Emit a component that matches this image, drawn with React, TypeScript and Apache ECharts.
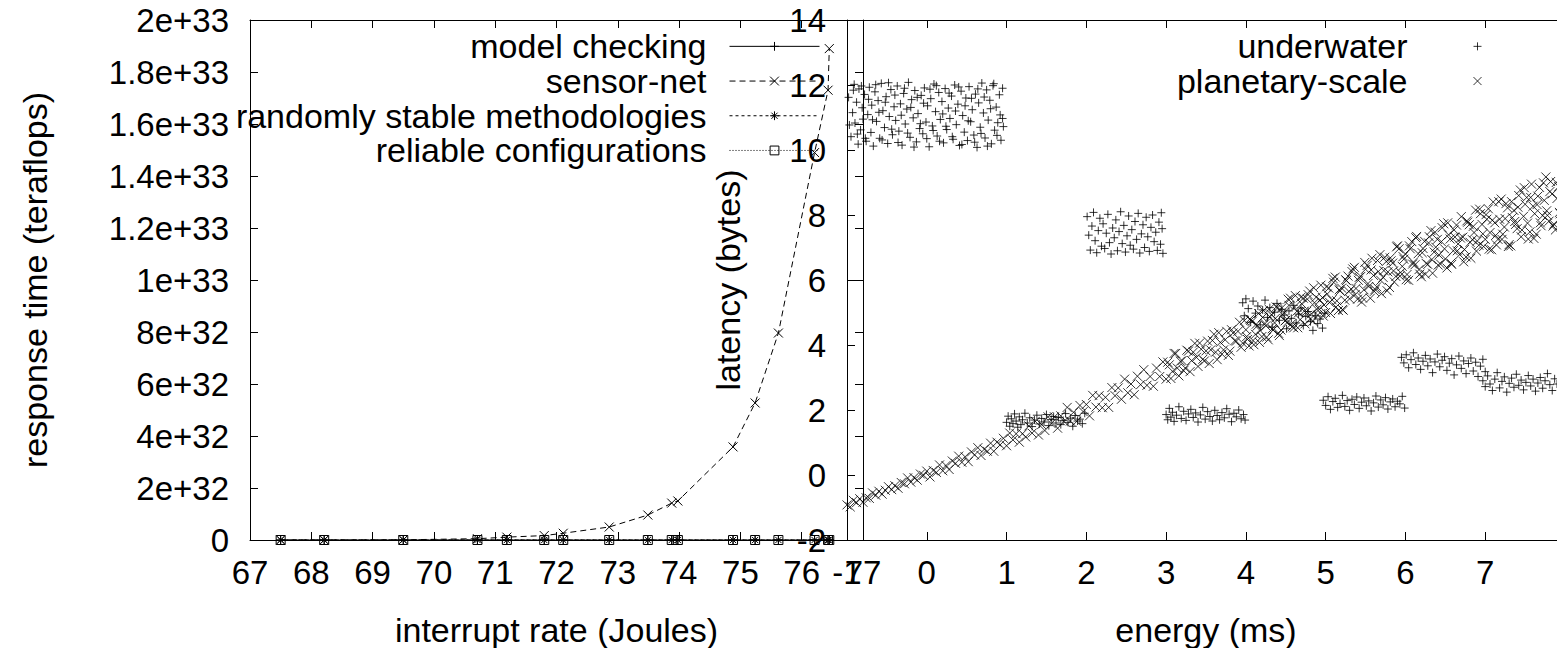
import React, { useEffect, useRef } from 'react';
import * as echarts from 'echarts';

const FONT = '"Liberation Sans", Arial, Helvetica, sans-serif';
const FS = 33;
const FS_NAME = 34;

// ---------- left panel ----------
const interruptRate = [67.5, 68.21, 69.5, 70.71, 71.19, 71.8, 72.11, 72.86, 73.49, 73.88, 73.98, 74.88, 75.24, 75.62, 76.21, 76.43, 76.45];
const modelChecking = [0, 0, 0, 0, 0, 0, 0, 0, 0, 0, 0, 0, 0, 0, 0, 0, 0];
const sensorNet = [2e28, 1e29, 8e29, 5e30, 1.1e31, 1.7e31, 2.6e31, 5e31, 9.6e31, 1.42e32, 1.5e32, 3.58e32, 5.27e32, 7.96e32, 1.49e33, 1.73e33, 1.89e33];
const randomlyStable = [0, 0, 0, 0, 0, 0, 0, 0, 0, 0, 0, 0, 0, 0, 0, 0, 0];
const reliableConfigurations = [0, 0, 0, 0, 0, 0, 0, 0, 0, 0, 0, 0, 0, 0, 0, 0, 0];
const leftYTickLabels = ['0', '2e+32', '4e+32', '6e+32', '8e+32', '1e+33', '1.2e+33', '1.4e+33', '1.6e+33', '1.8e+33', '2e+33'];

// ---------- right panel ----------
const underwaterA: [number, number][] = [
  [-0.98, 11.62], [-0.95, 10.41], [-0.93, 11.15], [-0.91, 12.02], [-0.9, 10.83], [-0.88, 11.47], [-0.86, 10.18], [-0.85, 11.88], [-0.83, 10.62], [-0.81, 11.3],
  [-0.8, 10.95], [-0.78, 11.71], [-0.76, 10.27], [-0.74, 11.09], [-0.72, 11.93], [-0.7, 10.54], [-0.69, 11.38], [-0.67, 10.12], [-0.65, 11.79], [-0.63, 10.88],
  [-0.61, 11.52], [-0.59, 10.36], [-0.57, 12.05], [-0.55, 11.21], [-0.53, 10.69], [-0.51, 11.64], [-0.49, 10.2], [-0.47, 11.03], [-0.45, 11.86], [-0.43, 10.47],
  [-0.41, 11.33], [-0.39, 10.91], [-0.37, 11.97], [-0.35, 10.58], [-0.33, 11.42], [-0.31, 10.15], [-0.29, 11.74], [-0.27, 10.8], [-0.25, 11.26], [-0.23, 12.08],
  [-0.21, 10.39], [-0.19, 11.55], [-0.17, 10.99], [-0.15, 11.83], [-0.13, 10.25], [-0.11, 11.12], [-0.09, 10.66], [-0.07, 11.68], [-0.05, 10.5], [-0.03, 11.91],
  [-0.01, 10.86], [0.01, 11.36], [0.03, 10.1], [0.05, 11.58], [0.07, 10.74], [0.09, 12.03], [0.11, 11.18], [0.13, 10.43], [0.15, 11.77], [0.17, 10.94],
  [0.19, 11.49], [0.21, 10.22], [0.23, 11.89], [0.25, 10.63], [0.27, 11.29], [0.29, 10.97], [0.31, 11.66], [0.33, 10.33], [0.35, 12.0], [0.37, 10.78],
  [0.39, 11.41], [0.41, 10.14], [0.43, 11.81], [0.45, 11.06], [0.47, 10.55], [0.49, 11.6], [0.51, 10.29], [0.53, 11.95], [0.55, 10.87], [0.57, 11.24],
  [0.59, 10.46], [0.61, 11.72], [0.63, 10.08], [0.65, 11.45], [0.67, 10.7], [0.69, 12.06], [0.71, 11.14], [0.73, 10.37], [0.75, 11.85], [0.77, 10.92],
  [0.79, 11.53], [0.81, 10.19], [0.83, 11.98], [0.85, 10.61], [0.87, 11.32], [0.89, 10.84], [0.91, 11.7], [0.93, 10.3], [0.95, 11.9], [0.96, 10.72],
  [-0.97, 10.77], [-0.92, 11.84], [-0.87, 10.49], [-0.82, 11.97], [-0.77, 10.36], [-0.73, 11.56], [-0.68, 10.93], [-0.64, 12.01], [-0.6, 11.16], [-0.56, 10.31],
  [-0.52, 11.47], [-0.48, 12.07], [-0.44, 10.64], [-0.4, 11.69], [-0.36, 10.23], [-0.32, 11.07], [-0.28, 11.9], [-0.24, 10.52], [-0.2, 11.31], [-0.16, 10.09],
  [-0.12, 11.62], [-0.08, 10.81], [-0.04, 11.44], [0.0, 10.35], [0.04, 11.87], [0.08, 10.6], [0.12, 11.98], [0.16, 10.27], [0.2, 11.11], [0.24, 10.73],
  [0.28, 11.75], [0.32, 10.41], [0.36, 11.2], [0.4, 11.94], [0.44, 10.17], [0.48, 11.36], [0.52, 10.9], [0.56, 11.59], [0.6, 10.24], [0.64, 11.88],
  [0.68, 10.51], [0.72, 11.63], [0.76, 10.12], [0.8, 11.27], [0.84, 12.04], [0.88, 10.45], [0.92, 11.08], [0.95, 10.97],
];
const underwaterB: [number, number][] = [
  [2.01, 7.95], [2.03, 7.38], [2.05, 6.92], [2.07, 7.66], [2.09, 8.08], [2.11, 7.21], [2.13, 6.84], [2.15, 7.52], [2.17, 7.9], [2.19, 7.04],
  [2.21, 7.73], [2.23, 6.97], [2.25, 7.44], [2.27, 8.02], [2.29, 7.15], [2.31, 6.8], [2.33, 7.6], [2.35, 7.3], [2.37, 7.85], [2.39, 6.9],
  [2.41, 7.49], [2.43, 8.1], [2.45, 7.12], [2.47, 7.68], [2.49, 6.86], [2.51, 7.36], [2.53, 7.97], [2.55, 7.07], [2.57, 7.55], [2.59, 6.95],
  [2.61, 7.8], [2.63, 7.25], [2.65, 8.05], [2.67, 6.83], [2.69, 7.42], [2.71, 7.7], [2.73, 7.0], [2.75, 7.93], [2.77, 7.33], [2.79, 6.88],
  [2.81, 7.62], [2.83, 8.0], [2.85, 7.18], [2.87, 7.47], [2.89, 6.91], [2.91, 7.78], [2.93, 7.1], [2.95, 7.58], [2.96, 6.82], [2.94, 8.07],
];
const underwaterC: [number, number][] = [
  [1.0, 1.62], [1.02, 1.81], [1.04, 1.5], [1.06, 1.73], [1.08, 1.58], [1.1, 1.88], [1.12, 1.66], [1.14, 1.47], [1.16, 1.79], [1.18, 1.55],
  [1.2, 1.7], [1.23, 1.9], [1.26, 1.6], [1.29, 1.76], [1.32, 1.49], [1.35, 1.69], [1.38, 1.84], [1.41, 1.57], [1.44, 1.74], [1.47, 1.63],
  [1.5, 1.86], [1.53, 1.52], [1.56, 1.71], [1.59, 1.8], [1.62, 1.6], [1.65, 1.77], [1.68, 1.55], [1.71, 1.68], [1.74, 1.89], [1.77, 1.62],
  [1.8, 1.75], [1.83, 1.5], [1.86, 1.83], [1.89, 1.66], [1.92, 1.72], [1.95, 1.58], [1.98, 1.9],
];
const underwaterD: [number, number][] = [
  [3.0, 1.86], [3.02, 1.7], [3.04, 2.05], [3.06, 1.78], [3.08, 1.93], [3.1, 1.65], [3.13, 1.84], [3.16, 2.1], [3.19, 1.74], [3.22, 1.96],
  [3.25, 1.68], [3.28, 1.88], [3.31, 2.02], [3.34, 1.77], [3.37, 1.91], [3.4, 1.63], [3.43, 1.85], [3.46, 2.08], [3.49, 1.72], [3.52, 1.95],
  [3.55, 1.8], [3.58, 1.66], [3.61, 1.99], [3.64, 1.83], [3.67, 1.7], [3.7, 1.92], [3.73, 1.76], [3.76, 2.04], [3.79, 1.87], [3.82, 1.64],
  [3.85, 1.9], [3.88, 1.79], [3.91, 2.0], [3.94, 1.73], [3.97, 1.86], [3.99, 1.69],
];
const underwaterE: [number, number][] = [
  [3.96, 5.3], [3.98, 4.9], [4.0, 5.42], [4.03, 5.12], [4.06, 4.7], [4.09, 5.35], [4.12, 4.98], [4.15, 5.2], [4.18, 4.62], [4.21, 5.08],
  [4.24, 5.38], [4.27, 4.85], [4.3, 5.15], [4.33, 4.55], [4.36, 5.01], [4.39, 5.28], [4.42, 4.76], [4.45, 5.1], [4.48, 4.92], [4.51, 4.5],
  [4.54, 5.05], [4.57, 4.82], [4.6, 5.22], [4.63, 4.68], [4.66, 4.95], [4.69, 5.14], [4.72, 4.6], [4.75, 4.88], [4.78, 5.03], [4.81, 4.72],
  [4.84, 4.45], [4.87, 4.9], [4.9, 4.66], [4.93, 4.8], [4.96, 4.52], [4.99, 4.98],
];
const underwaterF: [number, number][] = [
  [4.97, 2.3], [5.0, 2.14], [5.03, 2.41], [5.06, 2.02], [5.09, 2.26], [5.12, 2.36], [5.15, 2.08], [5.18, 2.2], [5.21, 2.45], [5.24, 2.11],
  [5.27, 2.29], [5.3, 1.99], [5.33, 2.33], [5.36, 2.17], [5.39, 2.4], [5.42, 2.05], [5.45, 2.24], [5.48, 2.37], [5.51, 2.13], [5.54, 2.28],
  [5.57, 1.97], [5.6, 2.22], [5.63, 2.43], [5.66, 2.09], [5.69, 2.31], [5.72, 2.16], [5.75, 2.38], [5.78, 2.03], [5.81, 2.25], [5.84, 2.34],
  [5.87, 2.1], [5.9, 2.27], [5.93, 2.19], [5.96, 2.42], [5.99, 2.06],
];
const underwaterG: [number, number][] = [
  [5.95, 3.62], [5.98, 3.45], [6.01, 3.7], [6.04, 3.3], [6.07, 3.55], [6.1, 3.76], [6.13, 3.4], [6.16, 3.6], [6.19, 3.25], [6.22, 3.5],
  [6.25, 3.68], [6.28, 3.36], [6.31, 3.57], [6.34, 3.15], [6.37, 3.48], [6.4, 3.72], [6.43, 3.33], [6.46, 3.53], [6.49, 3.64], [6.52, 3.22],
  [6.55, 3.44], [6.58, 3.58], [6.61, 3.08], [6.64, 3.39], [6.67, 3.66], [6.7, 3.28], [6.73, 3.51], [6.76, 3.12], [6.79, 3.43], [6.82, 3.6],
  [6.85, 3.2], [6.88, 3.47], [6.91, 3.03], [6.94, 3.35], [6.97, 3.56], [7.0, 3.18],
];
const underwaterH: [number, number][] = [
  [6.97, 2.9], [7.0, 2.72], [7.03, 3.05], [7.06, 2.8], [7.09, 2.6], [7.12, 2.95], [7.15, 3.15], [7.18, 2.68], [7.21, 2.88], [7.24, 3.02],
  [7.27, 2.55], [7.3, 2.82], [7.33, 2.98], [7.36, 2.7], [7.39, 3.1], [7.42, 2.76], [7.45, 2.92], [7.48, 2.62], [7.51, 2.85], [7.54, 3.06],
  [7.57, 2.74], [7.6, 2.95], [7.63, 2.58], [7.66, 2.83], [7.69, 3.0], [7.72, 2.67], [7.75, 2.9], [7.78, 3.12], [7.81, 2.78], [7.84, 2.6],
  [7.87, 2.96], [7.9, 2.8],
];
const planetaryScale: [number, number][] = [
  [-1.0, -0.92], [-0.96, -0.98], [-0.92, -0.78], [-0.88, -0.85], [-0.84, -0.73], [-0.8, -0.84], [-0.76, -0.7], [-0.72, -0.72], [-0.68, -0.55], [-0.64, -0.62],
  [-0.6, -0.5], [-0.56, -0.59], [-0.52, -0.47], [-0.48, -0.36], [-0.44, -0.45], [-0.4, -0.33], [-0.36, -0.41], [-0.32, -0.23], [-0.28, -0.27], [-0.24, -0.09],
  [-0.2, -0.22], [-0.16, -0.08], [-0.12, -0.16], [-0.08, 0.03], [-0.04, -0.01],
  [0.0, 0.12], [0.04, -0.06], [0.08, 0.14], [0.12, 0.08], [0.16, 0.31], [0.2, 0.13], [0.24, 0.29], [0.28, 0.17], [0.32, 0.43], [0.36, 0.36],
  [0.4, 0.58], [0.44, 0.39], [0.48, 0.56], [0.52, 0.41], [0.56, 0.71], [0.6, 0.62], [0.64, 0.84], [0.68, 0.6], [0.72, 0.79], [0.76, 0.73],
  [0.8, 0.98], [0.84, 0.73], [0.88, 1.01], [0.92, 0.93], [0.96, 1.13],
  [1.0, 0.9], [1.04, 1.29], [1.08, 1.08], [1.12, 1.27], [1.16, 1.01], [1.2, 1.27], [1.24, 1.17], [1.28, 1.51], [1.32, 1.29], [1.36, 1.65],
  [1.4, 1.23], [1.44, 1.55], [1.48, 1.37], [1.52, 1.79], [1.56, 1.58], [1.6, 1.79], [1.64, 1.44], [1.68, 1.82], [1.72, 1.65], [1.76, 2.08],
  [1.8, 1.66], [1.84, 1.93], [1.88, 1.65], [1.92, 2.14], [1.96, 1.95],
  [2.0, 2.17], [2.04, 1.82], [2.08, 2.45], [2.12, 2.09], [2.16, 2.44], [2.2, 2.07], [2.24, 2.39], [2.28, 2.08], [2.32, 2.69], [2.36, 2.44],
  [2.4, 2.68], [2.44, 2.33], [2.48, 2.95], [2.52, 2.53], [2.56, 2.8], [2.6, 2.47], [2.64, 3.04], [2.68, 2.78], [2.72, 3.24], [2.76, 2.76],
  [2.8, 3.03], [2.84, 2.73], [2.88, 3.29], [2.92, 3.03], [2.96, 3.48],
  [3.0, 2.95], [3.04, 3.39], [3.08, 3.19], [3.12, 3.74], [3.16, 3.05], [3.2, 3.52], [3.24, 3.29], [3.28, 3.81], [3.32, 3.52], [3.36, 4.05],
  [3.4, 3.34], [3.44, 3.87], [3.48, 3.51], [3.52, 4.12], [3.56, 3.85], [3.6, 4.33], [3.64, 3.55], [3.68, 4.08], [3.72, 3.85], [3.76, 4.42],
  [3.8, 3.81], [3.84, 4.37], [3.88, 4.12], [3.92, 4.7], [3.96, 4.06],
  [4.0, 4.47], [4.04, 3.97], [4.08, 4.73], [4.12, 4.33], [4.16, 4.97], [4.2, 4.26], [4.24, 4.66], [4.28, 4.16], [4.32, 4.93], [4.36, 4.68],
  [4.4, 5.15], [4.44, 4.46], [4.48, 5.0], [4.52, 4.7], [4.56, 5.44], [4.6, 4.53], [4.64, 5.04], [4.68, 4.78], [4.72, 5.44], [4.76, 5.03],
  [4.8, 5.66], [4.84, 4.73], [4.88, 5.47], [4.92, 5.1], [4.96, 5.46],
  [5.0, 5.0], [5.04, 5.75], [5.08, 5.39], [5.12, 6.09], [5.16, 5.06], [5.2, 5.75], [5.24, 5.38], [5.28, 6.12], [5.32, 5.72], [5.36, 6.39],
  [5.4, 5.41], [5.44, 6.11], [5.48, 5.7], [5.52, 6.45], [5.56, 5.44], [5.6, 6.14], [5.64, 5.79], [5.68, 6.78], [5.72, 6.08], [5.76, 6.57],
  [5.8, 5.77], [5.84, 6.52], [5.88, 6.11], [5.92, 6.96], [5.96, 6.42],
  [6.0, 6.8], [6.04, 5.99], [6.08, 7.18], [6.12, 6.47], [6.16, 6.81], [6.2, 6.1], [6.24, 7.19], [6.28, 6.48], [6.32, 7.52], [6.36, 6.86],
  [6.4, 7.25], [6.44, 6.49], [6.48, 7.73], [6.52, 6.37], [6.56, 7.26], [6.6, 6.9], [6.64, 7.69], [6.68, 6.78], [6.72, 7.32], [6.76, 6.71],
  [6.8, 7.7], [6.84, 7.24], [6.88, 8.15], [6.92, 7.07], [6.96, 7.71],
  [7.0, 7.25], [7.04, 8.19], [7.08, 6.93], [7.12, 7.76], [7.16, 7.25], [7.2, 8.49], [7.24, 7.63], [7.28, 8.22], [7.32, 7.05], [7.36, 8.14],
  [7.4, 7.58], [7.44, 8.77], [7.48, 7.96], [7.52, 8.54], [7.56, 7.48], [7.6, 8.27], [7.64, 7.41], [7.68, 8.85], [7.72, 7.98], [7.76, 9.17],
  [7.8, 7.81], [7.84, 8.65], [7.88, 7.54], [7.92, 8.87], [7.96, 8.36],
  [3.02, 3.47], [3.06, 2.97], [3.1, 3.74], [3.14, 3.29], [3.18, 3.5], [3.22, 3.21], [3.26, 3.84], [3.3, 3.18], [3.34, 3.78], [3.38, 3.62],
  [3.42, 4.06], [3.46, 3.56], [3.5, 3.82], [3.54, 3.43], [3.58, 4.14], [3.62, 3.78], [3.66, 4.38], [3.7, 3.72], [3.74, 4.16], [3.78, 3.68],
  [3.82, 4.47], [3.86, 4.13], [3.9, 4.42], [3.94, 3.93], [3.98, 4.75],
  [4.02, 4.17], [4.06, 4.76], [4.1, 4.01], [4.14, 4.58], [4.18, 4.44], [4.22, 5.06], [4.26, 4.24], [4.3, 4.87], [4.34, 4.46], [4.38, 5.17],
  [4.42, 4.29], [4.46, 4.93], [4.5, 4.76], [4.54, 5.22], [4.58, 4.56], [4.62, 5.52], [4.66, 4.99], [4.7, 5.27], [4.74, 4.65], [4.78, 5.55],
  [4.82, 4.96], [4.86, 5.3], [4.9, 4.92], [4.94, 5.84], [4.98, 5.23],
  [5.02, 5.57], [5.06, 4.97], [5.1, 5.93], [5.14, 5.36], [5.18, 5.66], [5.22, 5.07], [5.26, 5.98], [5.3, 5.42], [5.34, 6.34], [5.38, 5.74],
  [5.42, 6.08], [5.46, 5.45], [5.5, 6.33], [5.54, 5.8], [5.58, 6.67], [5.62, 5.71], [5.66, 6.26], [5.7, 5.58], [5.74, 6.7], [5.78, 6.25],
  [5.82, 6.59], [5.86, 5.94], [5.9, 7.05], [5.94, 6.23], [5.98, 6.64],
  [6.02, 6.17], [6.06, 6.96], [6.1, 6.55], [6.14, 7.34], [6.18, 6.18], [6.22, 6.97], [6.26, 6.51], [6.3, 7.33], [6.34, 6.21], [6.38, 7.01],
  [6.42, 6.77], [6.46, 7.61], [6.5, 6.65], [6.54, 7.39], [6.58, 6.48], [6.62, 7.32], [6.66, 7.11], [6.7, 7.95], [6.74, 6.94], [6.78, 7.78],
  [6.82, 6.67], [6.86, 7.46], [6.9, 7.2], [6.94, 8.04], [6.98, 7.03],
  [7.02, 7.87], [7.06, 7.46], [7.1, 8.4], [7.14, 7.08], [7.18, 7.87], [7.22, 7.41], [7.26, 8.35], [7.3, 7.09], [7.34, 7.92], [7.38, 7.71],
  [7.42, 8.6], [7.46, 7.54], [7.5, 8.33], [7.54, 7.26], [7.58, 8.95], [7.62, 8.04], [7.66, 8.58], [7.7, 7.67], [7.74, 8.45], [7.78, 7.99],
  [7.82, 9.03], [7.86, 7.72], [7.9, 8.51], [7.94, 8.04], [7.98, 9.08],
  [4.01, 4.26], [4.05, 4.8], [4.09, 4.14], [4.13, 4.64], [4.17, 4.08], [4.21, 4.85], [4.25, 4.59], [4.29, 5.1], [4.33, 4.5], [4.37, 4.82],
  [4.41, 4.36], [4.45, 5.14], [4.49, 4.74], [4.53, 5.41], [4.57, 4.65], [4.61, 5.17], [4.65, 4.53], [4.69, 5.47], [4.73, 5.04], [4.77, 5.41],
  [4.81, 4.8], [4.85, 5.76], [4.89, 5.1], [4.93, 5.38], [4.97, 4.89],
  [5.01, 5.79], [5.05, 5.31], [5.09, 6.05], [5.13, 5.17], [5.17, 5.7], [5.21, 5.09], [5.25, 6.01], [5.29, 5.65], [5.33, 6.26], [5.37, 5.55],
  [5.41, 5.99], [5.45, 5.32], [5.49, 6.54], [5.53, 5.89], [5.57, 6.31], [5.61, 5.65], [5.65, 6.6], [5.69, 5.99], [5.73, 6.29], [5.77, 5.67],
  [5.81, 6.68], [5.85, 6.28], [5.89, 7.02], [5.93, 6.12], [5.97, 6.72],
  [6.01, 6.01], [6.05, 7.05], [6.09, 6.49], [6.13, 7.3], [6.17, 6.32], [6.21, 6.84], [6.25, 6.18], [6.29, 7.14], [6.33, 6.63], [6.37, 7.47],
  [6.41, 6.46], [6.45, 7.18], [6.49, 6.96], [6.53, 7.76], [6.57, 6.52], [6.61, 7.54], [6.65, 6.9], [6.69, 7.29], [6.73, 6.56], [6.77, 7.82],
  [6.81, 7.16], [6.85, 7.65], [6.89, 6.89], [6.93, 8.18], [6.97, 7.42],
  [7.01, 8.01], [7.05, 6.95], [7.09, 7.84], [7.13, 7.37], [7.17, 8.41], [7.21, 7.25], [7.25, 7.89], [7.29, 7.03], [7.33, 8.41], [7.37, 7.8],
  [7.41, 8.24], [7.45, 7.33], [7.49, 8.84], [7.53, 7.75], [7.57, 8.54], [7.61, 7.28], [7.65, 8.32], [7.69, 7.76], [7.73, 8.99], [7.77, 8.13],
  [7.81, 8.72], [7.85, 7.66], [7.89, 9.0], [7.93, 8.08], [7.97, 8.67],
];
const underwater = [
  ...underwaterA, ...underwaterB, ...underwaterC, ...underwaterD,
  ...underwaterE, ...underwaterF, ...underwaterG, ...underwaterH,
];

// ---------- symbols ----------
const PLUS = 'path://M0 5L10 5M5 0L5 10';
const CROSS = 'path://M0 0L10 10M0 10L10 0';
const STAR = 'path://M0 5L10 5M5 0L5 10M1.5 1.5L8.5 8.5M1.5 8.5L8.5 1.5';
const BOX = 'path://M0 0L10 0L10 10L0 10Z';

const zip = (xs: number[], ys: number[]) => xs.map((x, i) => [x, ys[i]]);

const lineAx = { show: true, onZero: false, lineStyle: { color: '#000', width: 1 } };
const tickAx = { show: true, inside: true, length: 8, lineStyle: { color: '#000', width: 1 } };
const labelAx = { color: '#000', fontSize: FS, fontFamily: FONT };
const nameStyleY = { color: '#000', fontSize: FS_NAME, fontFamily: FONT };
const nameStyleX = { color: '#000', fontSize: FS_NAME, fontFamily: FONT, lineHeight: 28 };

function mainAxis(extra: any) {
  return {
    type: 'value',
    axisLine: lineAx,
    axisTick: tickAx,
    splitLine: { show: false },
    nameLocation: 'middle',
    ...extra,
  };
}
function mirrorAxis(extra: any) {
  return {
    type: 'value',
    axisLine: lineAx,
    axisTick: tickAx,
    axisLabel: { show: false },
    splitLine: { show: false },
    ...extra,
  };
}

function lineSeries(name: string, vals: number[], symbol: string, dash: any, fill = '#000') {
  return {
    name,
    type: 'line',
    xAxisIndex: 0,
    yAxisIndex: 0,
    data: zip(interruptRate, vals),
    symbol,
    symbolSize: 9,
    showSymbol: true,
    lineStyle: { color: '#000', width: 1, type: dash },
    itemStyle: { color: fill, borderColor: '#000', borderWidth: 1 },
    emphasis: { disabled: true },
  };
}

export default function App() {
  const ref = useRef<HTMLDivElement>(null);
  useEffect(() => {
    if (!ref.current) return;
    const chart = echarts.init(ref.current, null, { renderer: 'svg' });
    const option: any = {
      animation: false,
      backgroundColor: '#fff',
      textStyle: { fontFamily: FONT, color: '#000' },
      grid: [
        { left: 250, top: 20, width: 613, height: 520, outerBoundsMode: 'none', containLabel: false },
        { left: 847, top: 20, width: 718, height: 520, outerBoundsMode: 'none', containLabel: false },
      ],
      xAxis: [
        mainAxis({
          gridIndex: 0, position: 'bottom', min: 67, max: 77, interval: 1,
          axisLabel: { ...labelAx, margin: 16 },
          name: 'interrupt rate (Joules)', nameGap: 76, nameTextStyle: nameStyleX,
        }),
        mirrorAxis({ gridIndex: 0, position: 'top', min: 67, max: 77, interval: 1 }),
        mainAxis({
          gridIndex: 1, position: 'bottom', min: -1, max: 8, interval: 1,
          axisLabel: { ...labelAx, margin: 16, showMaxLabel: false },
          name: 'energy (ms)', nameGap: 76, nameTextStyle: nameStyleX,
        }),
        mirrorAxis({ gridIndex: 1, position: 'top', min: -1, max: 8, interval: 1 }),
      ],
      yAxis: [
        mainAxis({
          gridIndex: 0, position: 'left', min: 0, max: 2e33, interval: 2e32,
          axisLabel: {
            ...labelAx, margin: 21,
            formatter: (v: number) => leftYTickLabels[Math.round(v / 2e32)] ?? '',
          },
          name: 'response time (teraflops)', nameGap: 198, nameTextStyle: nameStyleY,
        }),
        mirrorAxis({ gridIndex: 0, position: 'right', min: 0, max: 2e33, interval: 2e32 }),
        mainAxis({
          gridIndex: 1, position: 'left', min: -2, max: 14, interval: 2,
          axisLabel: { ...labelAx, margin: 21 },
          name: 'latency (bytes)', nameGap: 102, nameTextStyle: nameStyleY,
        }),
        mirrorAxis({ gridIndex: 1, position: 'right', min: -2, max: 14, interval: 2 }),
      ],
      legend: [
        {
          data: ['model checking', 'sensor-net', 'randomly stable methodologies', 'reliable configurations'],
          orient: 'vertical', align: 'right', right: 737, top: 29, padding: 0,
          itemWidth: 90, itemHeight: 11, itemGap: 0, selectedMode: false,
          textStyle: { color: '#000', fontSize: FS_NAME, fontFamily: FONT, lineHeight: 34.7, padding: [0, 18, 0, 0] },
          itemStyle: { borderWidth: 1 }, lineStyle: { width: 1 },
        },
        {
          data: ['underwater', 'planetary-scale'],
          orient: 'vertical', align: 'right', right: 75, top: 29, padding: 0,
          itemWidth: 8, itemHeight: 8, itemGap: 0, selectedMode: false,
          textStyle: { color: '#000', fontSize: FS_NAME, fontFamily: FONT, lineHeight: 34.7, padding: [0, 61, 0, 0] },
          itemStyle: { borderWidth: 1 },
        },
      ],
      series: [
        lineSeries('model checking', modelChecking, PLUS, 'solid'),
        lineSeries('sensor-net', sensorNet, CROSS, [6, 4]),
        lineSeries('randomly stable methodologies', randomlyStable, STAR, [3, 3]),
        lineSeries('reliable configurations', reliableConfigurations, BOX, [1, 2], 'rgba(0,0,0,0)'),
        {
          name: 'underwater', type: 'scatter', xAxisIndex: 2, yAxisIndex: 2,
          data: underwater, symbol: PLUS, symbolSize: 8,
          itemStyle: { color: '#000', borderColor: '#000', borderWidth: 1 },
          emphasis: { disabled: true },
        },
        {
          name: 'planetary-scale', type: 'scatter', xAxisIndex: 2, yAxisIndex: 2,
          data: planetaryScale, symbol: CROSS, symbolSize: 9,
          itemStyle: { color: '#000', borderColor: '#000', borderWidth: 1 },
          emphasis: { disabled: true },
        },
      ],
    };
    chart.setOption(option);
    return () => chart.dispose();
  }, []);
  return (
    <div
      ref={ref}
      style={{ position: 'fixed', left: 0, top: 0, width: 1557, height: 648, background: '#fff' }}
    />
  );
}
